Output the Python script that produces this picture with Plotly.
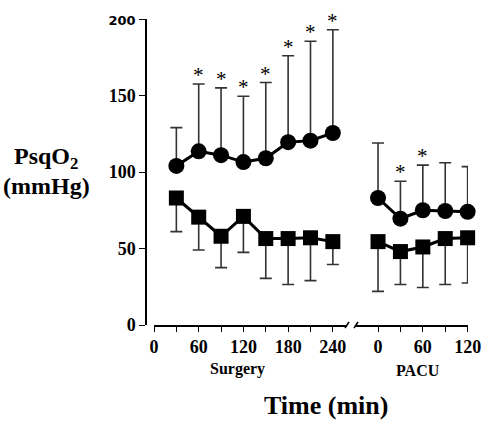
import plotly.graph_objects as go

# ---- data ----
surg_t = [30, 60, 90, 120, 150, 180, 210, 240]
surg_circ = [104, 113.5, 111, 106.5, 109, 119.5, 120.5, 125.5]
surg_circ_top = [129, 157.5, 155, 149.5, 158.5, 176, 185.5, 193]
surg_circ_sig = [False, True, True, True, True, True, True, True]
surg_sq = [83, 70.5, 58, 71, 56.5, 56.5, 57, 54.5]
surg_sq_bot = [61, 49, 37.5, 47.5, 30.5, 26.5, 29, 39.5]

pacu_t = [0, 30, 60, 90, 120]
pacu_circ = [83, 69.5, 75, 74.5, 74]
pacu_circ_top = [119, 94, 104.5, 106, 103.5]
pacu_circ_sig = [False, True, True, False, False]
pacu_sq = [54.5, 48, 51, 56.5, 57]
pacu_sq_bot = [22, 26.5, 24.5, 26.5, 27.5]

surg_ticks = [0, 30, 60, 90, 120, 150, 180, 210, 240]
surg_ticktext = ["0", "", "60", "", "120", "", "180", "", "240"]
pacu_ticks = [0, 30, 60, 90, 120]
pacu_ticktext = ["0", "", "60", "", "120"]
y_ticks = [0, 50, 100, 150, 200]
y_ticktext = ["0", "50", "100", "150",
              '<span style="font-family:DejaVu Sans;font-size:13px">200</span>']

SERIF = "Liberation Serif"
ERR = "#333333"

fig = go.Figure()


def add_period(t, circ, top, sig, sq, bot, xa):
    fig.add_trace(go.Scatter(
        x=t, y=circ, xaxis=xa, yaxis="y", mode="lines+markers",
        line=dict(color="black", width=3),
        marker=dict(symbol="circle", size=16, color="black"),
        error_y=dict(type="data", symmetric=False,
                     array=[a - b for a, b in zip(top, circ)],
                     arrayminus=[0] * len(t),
                     color=ERR, thickness=1.6, width=6),
        showlegend=False, hoverinfo="skip", cliponaxis=False))
    fig.add_trace(go.Scatter(
        x=t, y=sq, xaxis=xa, yaxis="y", mode="lines+markers",
        line=dict(color="black", width=3),
        marker=dict(symbol="square", size=15, color="black"),
        error_y=dict(type="data", symmetric=False,
                     array=[0] * len(t),
                     arrayminus=[a - b for a, b in zip(sq, bot)],
                     color=ERR, thickness=1.6, width=6),
        showlegend=False, hoverinfo="skip", cliponaxis=False))
    for x, y, s in zip(t, top, sig):
        if s:
            fig.add_annotation(x=x, y=y, xref=xa, yref="y", text="*",
                               showarrow=False, yshift=9,
                               font=dict(family=SERIF, size=21, color="black"))


add_period(surg_t, surg_circ, surg_circ_top, surg_circ_sig, surg_sq, surg_sq_bot, "x")
add_period(pacu_t, pacu_circ, pacu_circ_top, pacu_circ_sig, pacu_sq, pacu_sq_bot, "x2")

W, H = 488, 424
L, R, T, B = 146, 18, 19, 99
pw = W - L - R
ph = H - T - B


def px(v):
    return (v - L) / pw


tickfont = dict(family=SERIF, size=18, color="black", weight="bold")
common_x = dict(showline=True, linecolor="black", linewidth=1.5, ticks="outside",
                ticklen=5, tickwidth=1.3, tickcolor="black", showgrid=False,
                zeroline=False, tickfont=tickfont, anchor="y", fixedrange=True,
                automargin=False)

fig.update_layout(
    width=W, height=H, margin=dict(l=L, r=R, t=T, b=B),
    paper_bgcolor="white", plot_bgcolor="white",
    font=dict(family=SERIF, color="black"),
    xaxis=dict(domain=[px(154), px(347)], range=[0, 259],
               tickvals=surg_ticks, ticktext=surg_ticktext, **common_x),
    xaxis2=dict(domain=[px(356), px(468)], range=[-29.5, 120.5],
                tickvals=pacu_ticks, ticktext=pacu_ticktext, **common_x),
    yaxis=dict(range=[0, 200], tickvals=y_ticks, ticktext=y_ticktext,
               showline=True, linecolor="black",
               linewidth=1.5, ticks="outside", ticklen=6, tickwidth=1.3,
               tickcolor="black", showgrid=False, zeroline=False,
               tickfont=tickfont, anchor="free", position=0, fixedrange=True,
               automargin=False),
)

# axis break marks
for xr, xx in (("x domain", 1.0), ("x2 domain", 0.0)):
    fig.add_shape(type="line", xref=xr, yref="paper", xsizemode="pixel",
                  ysizemode="pixel", xanchor=xx, yanchor=0,
                  x0=-2, x1=2, y0=-3, y1=3, line=dict(color="black", width=1.5))


def pix_ann(text, x, y, size):
    fig.add_annotation(text=text, xref="paper", yref="paper",
                       x=(x - L) / pw, y=(H - y - B) / ph,
                       xanchor="center", yanchor="middle", showarrow=False,
                       font=dict(family=SERIF, size=size, color="black"))


pix_ann("<b>PsqO<sub>2</sub></b>", 46, 158, 24)
pix_ann("<b>(mmHg)</b>", 46, 186, 24)
pix_ann("<b>Surgery</b>", 237, 369, 16)
pix_ann("<b>PACU</b>", 418, 370, 16)
pix_ann("<b>Time (min)</b>", 326, 405, 26)

fig.write_html("out.html", config={"displayModeBar": False},
               post_script="document.body.style.margin='0';"
                           "document.body.style.overflow='hidden';")
